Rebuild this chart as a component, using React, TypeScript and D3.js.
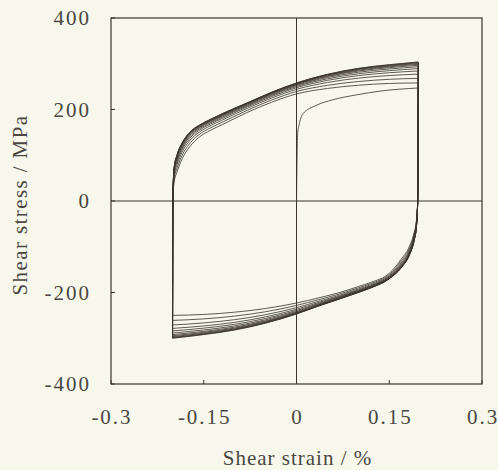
import React from "react";
import * as d3 from "d3";

// Axis ticks
const strainTicks = [-0.3, -0.15, 0, 0.15, 0.3];
const strainTickLabels = ["-0.3", "-0.15", "0", "0.15", "0.3"];
const stressTicks = [-400, -200, 0, 200, 400];
const stressTickLabels = ["-400", "-200", "0", "200", "400"];

// Initial (monotonic) loading curve
const initialStrain = [0, 0.001, 0.002, 0.004, 0.01, 0.032, 0.058, 0.097, 0.14, 0.197];
const initialStress = [0, 100, 150, 165, 190, 209, 221, 232, 241, 247];

// Upper (reloading) branch: first cycle and last (hardened) cycle; start point is the previous compressive peak
const upperStrain = [-0.2005, -0.2, -0.198, -0.193, -0.185, -0.173, -0.157, -0.14, -0.12, -0.079, -0.04, 0, 0.05, 0.1, 0.15, 0.197];
const upperFirst = [NaN, 0, 40, 64, 92, 118, 140, 154, 167, 194, 216, 234, 246, 253, 257, 258];
const upperLast = [NaN, 0, 72, 102, 127, 150, 166, 178, 191, 215, 238, 258, 277, 290, 298, 304];

// Lower (unloading) branch; start point is the previous tensile peak
const lowerStrain = [0.197, 0.196, 0.194, 0.19, 0.183, 0.17, 0.15, 0.12, 0.1, 0.07, 0.035, 0, -0.05, -0.1, -0.15, -0.2005];
const lowerFirst = [NaN, 0, -42, -70, -98, -126, -158, -178, -187, -200, -212, -223, -235, -243, -248, -250];
const lowerLast = [NaN, 0, -55, -88, -117, -145, -170, -190, -200, -214, -230, -247, -267, -282, -292, -300];

// Relative hardening level of each cycle (0 = first cycle, 1 = last)
const cycleLevels = [0, 0.22, 0.42, 0.57, 0.68, 0.77, 0.84, 0.89, 0.93, 0.96, 0.985, 1];

const W = 498;
const H = 470;
const left = 111, right = 482, top = 18, bottom = 384;

export default function App() {
  const x = d3.scaleLinear().domain([-0.3, 0.3]).range([left, right]);
  const y = d3.scaleLinear().domain([-400, 400]).range([bottom, top]);
  const line = d3
    .line<[number, number]>()
    .x((d) => x(d[0]))
    .y((d) => y(d[1]))
    .curve(d3.curveMonotoneX);

  const branches: [number, number][][] = [];
  branches.push(initialStrain.map((s, i) => [s, initialStress[i]] as [number, number]));
  let prevPeak = initialStress[initialStress.length - 1];
  cycleLevels.forEach((lv) => {
    const low = lowerStrain.map((s, i) => {
      const v = i === 0 ? prevPeak : lowerFirst[i] + (lowerLast[i] - lowerFirst[i]) * lv;
      return [s, v] as [number, number];
    });
    branches.push(low.slice().reverse());
    const compPeak = low[low.length - 1][1];
    const up = upperStrain.map((s, i) => {
      const v = i === 0 ? compPeak : upperFirst[i] + (upperLast[i] - upperFirst[i]) * lv;
      return [s, v] as [number, number];
    });
    branches.push(up);
    prevPeak = up[up.length - 1][1];
  });

  const ink = "#3a342d";
  const textColor = "#4a4742";
  const font = "Liberation Serif, Times New Roman, serif";
  const ls = 2;

  return (
    <svg width={W} height={H} style={{ position: "absolute", left: 0, top: 0 }}>
      <rect x={0} y={0} width={W} height={H} fill="#f7f7ec" />
      <rect x={left} y={top} width={right - left} height={bottom - top} fill="none" stroke={ink} strokeWidth={1.2} />
      <line x1={x(0)} x2={x(0)} y1={top} y2={bottom} stroke={ink} strokeWidth={1} />
      <line x1={left} x2={right} y1={y(0)} y2={y(0)} stroke={ink} strokeWidth={1} />
      {strainTicks.map((t) => (
        <line key={"xt" + t} x1={x(t)} x2={x(t)} y1={bottom} y2={bottom - 4} stroke={ink} strokeWidth={1} />
      ))}
      {stressTicks.map((t) => (
        <line key={"yt" + t} x1={left} x2={left + 4} y1={y(t)} y2={y(t)} stroke={ink} strokeWidth={1} />
      ))}
      {branches.map((b, i) => (
        <path key={i} d={line(b) || ""} fill="none" stroke={ink} strokeWidth={0.9} strokeOpacity={0.9} />
      ))}
      {stressTicks.map((t, i) => (
        <text key={"yl" + t} x={89 + ls} y={y(t)} dy="0.35em" textAnchor="end" fontFamily={font} fontSize={21} letterSpacing={ls} fill={textColor}>
          {stressTickLabels[i]}
        </text>
      ))}
      {strainTicks.map((t, i) => (
        <text key={"xl" + t} x={x(t) + ls / 2} y={424} textAnchor="middle" fontFamily={font} fontSize={21} letterSpacing={ls} fill={textColor}>
          {strainTickLabels[i]}
        </text>
      ))}
      <text x={297.5} y={465} textAnchor="middle" fontFamily={font} fontSize={21} letterSpacing={1} fill={textColor}>
        Shear strain / %
      </text>
      <text transform="translate(27,205) rotate(-90)" textAnchor="middle" fontFamily={font} fontSize={21} letterSpacing={1.4} fill={textColor}>
        Shear stress / MPa
      </text>
    </svg>
  );
}
